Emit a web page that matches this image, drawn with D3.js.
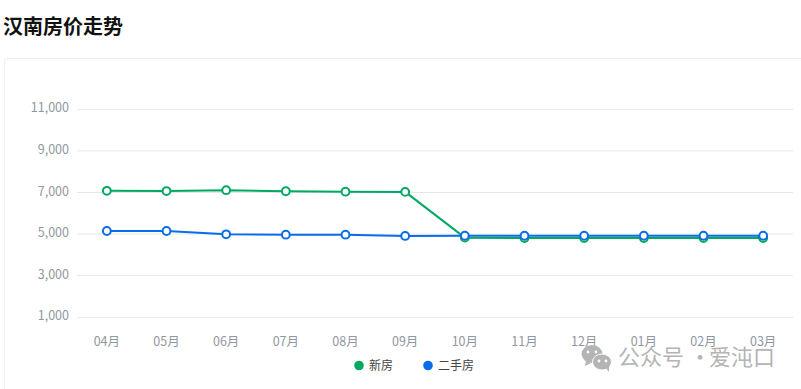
<!DOCTYPE html>
<html lang="zh">
<head>
  <meta charset="utf-8" />
  <title>汉南房价走势</title>
  <script src="https://cdn.jsdelivr.net/npm/d3@7"></script>
  <style>
    body { margin: 0; background: #fff; font-family: "Noto Sans CJK SC", sans-serif; }
    svg { display: block; }
    .axis .domain, .axis .tick line { display: none; }
    .axis text { font-size: 12.5px; fill: #91979f; font-family: "Noto Sans CJK SC", sans-serif; }
    .grid line { stroke: #e6e7e9; stroke-width: 1px; }
    .trend { fill: none; stroke-width: 2px; stroke-linejoin: round; }
    .dot { fill: #fff; stroke-width: 2px; }
  </style>
</head>
<body>
<div id="chart"></div>
<script>
const months = ['04月', '05月', '06月', '07月', '08月', '09月', '10月', '11月', '12月', '01月', '02月', '03月'];
const newHomes = [7080, 7070, 7110, 7060, 7040, 7030, 4830, 4810, 4810, 4810, 4810, 4810];
const resale = [5150, 5150, 4990, 4970, 4970, 4910, 4920, 4920, 4920, 4920, 4920, 4920];
const yTicks = [1000, 3000, 5000, 7000, 9000, 11000];
const seriesNames = ['新房', '二手房'];
const seriesColors = ['#00a862', '#0a6ce8'];

const W = 801, H = 389;
const svg = d3.select('#chart').append('svg').attr('width', W).attr('height', H);

svg.append('text')
  .attr('x', 3).attr('y', 34)
  .attr('font-size', 20).attr('font-weight', 700).attr('fill', '#111')
  .text('汉南房价走势');

// card outline, runs off the right and bottom edge
svg.append('rect')
  .attr('x', 4.5).attr('y', 58.5).attr('width', W).attr('height', H)
  .attr('rx', 2).attr('fill', 'none').attr('stroke', '#efefef');

const x = d3.scaleBand().domain(months).range([77, 793]);
const y = d3.scaleLinear().domain([1000, 11000]).range([317.3, 109.3]);
const cx = m => x(m) + x.bandwidth() / 2;

svg.append('g').attr('class', 'grid')
  .selectAll('line').data(yTicks).join('line')
  .attr('x1', 77).attr('x2', 793)
  .attr('y1', d => y(d)).attr('y2', d => y(d));

svg.append('g').attr('class', 'axis')
  .attr('transform', 'translate(77,-1.5)')
  .call(d3.axisLeft(y).tickValues(yTicks).tickSize(0).tickPadding(8).tickFormat(d3.format(',')));

svg.append('g').attr('class', 'axis')
  .attr('transform', 'translate(0,334)')
  .call(d3.axisBottom(x).tickSize(0).tickPadding(3));

const line = d3.line().x((d, i) => cx(months[i])).y(d => y(d));

[newHomes, resale].forEach((vals, k) => {
  svg.append('path').datum(vals)
    .attr('class', 'trend')
    .attr('stroke', seriesColors[k])
    .attr('d', line);
  svg.append('g').selectAll('circle').data(vals).join('circle')
    .attr('class', 'dot')
    .attr('stroke', seriesColors[k])
    .attr('r', 3.9)
    .attr('cx', (d, i) => cx(months[i]))
    .attr('cy', d => y(d));
});

// legend
const legendX = [359, 428];
seriesNames.forEach((name, k) => {
  svg.append('circle').attr('cx', legendX[k]).attr('cy', 365.5).attr('r', 4.8).attr('fill', seriesColors[k]);
  svg.append('text').attr('x', legendX[k] + 10).attr('y', 369.5)
    .attr('font-size', 12).attr('fill', '#444').text(name);
});

// watermark
const wm = svg.append('g').attr('fill', '#b4b4b4');
wm.append('ellipse').attr('cx', 592).attr('cy', 354).attr('rx', 10.5).attr('ry', 9);
wm.append('path').attr('d', 'M586 361l-1 5 6-3z');
wm.append('ellipse').attr('cx', 602).attr('cy', 362).attr('rx', 9.5).attr('ry', 8).attr('stroke', '#fff').attr('stroke-width', 1);
wm.append('path').attr('d', 'M606 368l3 4 0-6z');
[[588, 352], [596, 352], [599, 361], [606, 361]].forEach(p => {
  wm.append('circle').attr('cx', p[0]).attr('cy', p[1]).attr('r', 1.4).attr('fill', '#fff');
});
[['公众号', 618], ['·', 689], ['爱沌口', 709]].forEach(t => {
  wm.append('text').attr('x', t[1]).attr('y', 365).attr('font-size', 22).text(t[0]);
});
</script>
</body>
</html>
